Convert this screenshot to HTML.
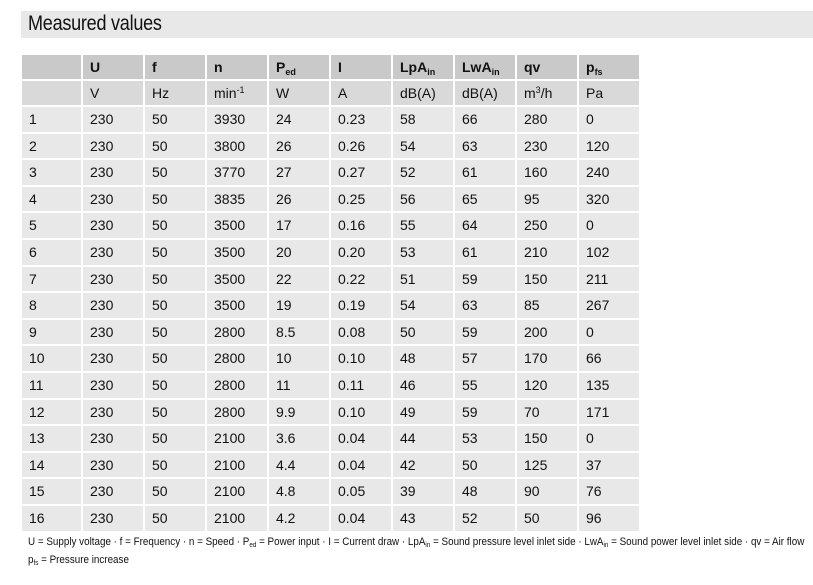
<!DOCTYPE html>
<html><head><meta charset="utf-8"><style>
body{margin:0;width:813px;height:585px;background:#fff;font-family:"Liberation Sans",Arial,sans-serif;color:#111;position:relative;overflow:hidden}
.title{position:absolute;left:21px;top:11px;width:792px;height:27px;background:#e8e8e8}
.title span{position:absolute;left:7px;top:1px;font-size:21px;letter-spacing:-0.3px;transform-origin:0 0;transform:scaleX(0.86);white-space:nowrap}
.c{position:absolute;font-size:14px;padding-left:7px;box-sizing:border-box;white-space:nowrap}
.h{background:#c9c9c9;font-weight:bold}
.u{background:#d9d9d9}
.d{background:#e8e8e8}
sub{font-size:9px;vertical-align:-3px;line-height:0}
sup{font-size:9px;vertical-align:5px;line-height:0}
.fn{position:absolute;left:28px;font-size:11px;white-space:nowrap;transform-origin:0 0;transform:scaleX(0.895)}
.fn sub{font-size:7px;vertical-align:-2px}
</style></head><body>
<div class="title"><span>Measured values</span></div>
<div id="t"></div>
<div class="fn" style="top:536px">U = Supply voltage · f = Frequency · n = Speed · P<sub>ed</sub> = Power input · I = Current draw · LpA<sub>in</sub> = Sound pressure level inlet side · LwA<sub>in</sub> = Sound power level inlet side · qv = Air flow</div>
<div class="fn" style="top:554px">p<sub>fs</sub> = Pressure increase</div>
<script>
var xs=[22,83,145,207,269,331,393,455,517,579],ws=[59,60,60,60,60,60,60,60,60,60];
var h1=["","U","f","n","P<sub>ed</sub>","I","LpA<sub>in</sub>","LwA<sub>in</sub>","qv","p<sub>fs</sub>"];
var h2=["","V","Hz","min<sup>-1</sup>","W","A","dB(A)","dB(A)","m<sup>3</sup>/h","Pa"];
var d=[[3930,24,"0.23",58,66,280,0],[3800,26,"0.26",54,63,230,120],[3770,27,"0.27",52,61,160,240],[3835,26,"0.25",56,65,95,320],[3500,17,"0.16",55,64,250,0],[3500,20,"0.20",53,61,210,102],[3500,22,"0.22",51,59,150,211],[3500,19,"0.19",54,63,85,267],[2800,"8.5","0.08",50,59,200,0],[2800,10,"0.10",48,57,170,66],[2800,11,"0.11",46,55,120,135],[2800,"9.9","0.10",49,59,70,171],[2100,"3.6","0.04",44,53,150,0],[2100,"4.4","0.04",42,50,125,37],[2100,"4.8","0.05",39,48,90,76],[2100,"4.2","0.04",43,52,50,96]];
var s="";
function row(vals,top,h,cls){for(var i=0;i<10;i++)s+='<div class="c '+cls+'" style="left:'+xs[i]+'px;top:'+top+'px;width:'+ws[i]+'px;height:'+h+'px;line-height:'+h+'px">'+vals[i]+'</div>';}
row(h1,55,24,"h");row(h2,81,24,"u");
for(var r=0;r<16;r++){var v=[r+1,230,50].concat(d[r]);var t=107+r*26.6;row(v,Math.round(t),Math.round(t+24.6)-Math.round(t),"d");}
document.getElementById("t").innerHTML=s;
</script>
</body></html>
